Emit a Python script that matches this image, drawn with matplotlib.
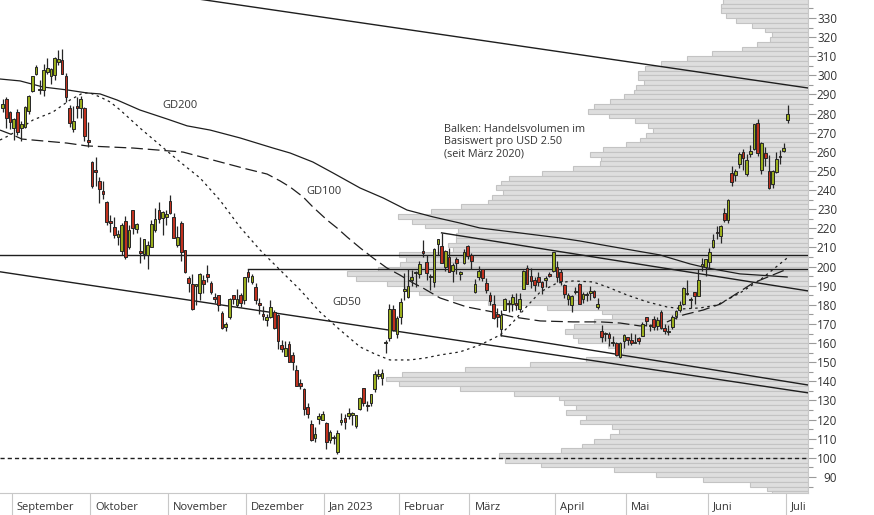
import matplotlib
matplotlib.use("Agg")
import matplotlib.pyplot as plt
import numpy as np
from matplotlib.transforms import blended_transform_factory

plt.rcParams['font.family'] = ['Open Sans', 'DejaVu Sans']
plt.rcParams['lines.scale_dashes'] = False

# ---------------- data ----------------
dates = ["2022-08-29","2022-08-30","2022-08-31","2022-09-01","2022-09-02","2022-09-06","2022-09-07","2022-09-08","2022-09-09",
"2022-09-12","2022-09-13","2022-09-14","2022-09-15","2022-09-16","2022-09-19","2022-09-20","2022-09-21","2022-09-22","2022-09-23",
"2022-09-26","2022-09-27","2022-09-28","2022-09-29","2022-09-30","2022-10-03","2022-10-04","2022-10-05","2022-10-06","2022-10-07",
"2022-10-10","2022-10-11","2022-10-12","2022-10-13","2022-10-14","2022-10-17","2022-10-18","2022-10-19","2022-10-20","2022-10-21",
"2022-10-24","2022-10-25","2022-10-26","2022-10-27","2022-10-28","2022-10-31","2022-11-01","2022-11-02","2022-11-03","2022-11-04",
"2022-11-07","2022-11-08","2022-11-09","2022-11-10","2022-11-11","2022-11-14","2022-11-15","2022-11-16","2022-11-17","2022-11-18",
"2022-11-21","2022-11-22","2022-11-23","2022-11-25","2022-11-28","2022-11-29","2022-11-30","2022-12-01","2022-12-02","2022-12-05",
"2022-12-06","2022-12-07","2022-12-08","2022-12-09","2022-12-12","2022-12-13","2022-12-14","2022-12-15","2022-12-16","2022-12-19",
"2022-12-20","2022-12-21","2022-12-22","2022-12-23","2022-12-27","2022-12-28","2022-12-29","2022-12-30","2023-01-03","2023-01-04",
"2023-01-05","2023-01-06","2023-01-09","2023-01-10","2023-01-11","2023-01-12","2023-01-13","2023-01-17","2023-01-18","2023-01-19",
"2023-01-20","2023-01-23","2023-01-24","2023-01-25","2023-01-26","2023-01-27","2023-01-30","2023-01-31","2023-02-01","2023-02-02",
"2023-02-03","2023-02-06","2023-02-07","2023-02-08","2023-02-09","2023-02-10","2023-02-13","2023-02-14","2023-02-15","2023-02-16",
"2023-02-17","2023-02-21","2023-02-22","2023-02-23","2023-02-24","2023-02-27","2023-02-28","2023-03-01","2023-03-02","2023-03-03",
"2023-03-06","2023-03-07","2023-03-08","2023-03-09","2023-03-10","2023-03-13","2023-03-14","2023-03-15","2023-03-16","2023-03-17",
"2023-03-20","2023-03-21","2023-03-22","2023-03-23","2023-03-24","2023-03-27","2023-03-28","2023-03-29","2023-03-30","2023-03-31",
"2023-04-03","2023-04-04","2023-04-05","2023-04-06","2023-04-10","2023-04-11","2023-04-12","2023-04-13","2023-04-14","2023-04-17",
"2023-04-18","2023-04-19","2023-04-20","2023-04-21","2023-04-24","2023-04-25","2023-04-26","2023-04-27","2023-04-28","2023-05-01",
"2023-05-02","2023-05-03","2023-05-04","2023-05-05","2023-05-08","2023-05-09","2023-05-10","2023-05-11","2023-05-12","2023-05-15",
"2023-05-16","2023-05-17","2023-05-18","2023-05-19","2023-05-22","2023-05-23","2023-05-24","2023-05-25","2023-05-26","2023-05-30",
"2023-05-31","2023-06-01","2023-06-02","2023-06-05","2023-06-06","2023-06-07","2023-06-08","2023-06-09","2023-06-12","2023-06-13",
"2023-06-14","2023-06-15","2023-06-16","2023-06-20","2023-06-21","2023-06-22","2023-06-23","2023-06-26","2023-06-27","2023-06-28",
"2023-06-29","2023-06-30","2023-07-03"]

opens = [282.83,287.87,280.62,272.58,281.07,272.68,273.10,281.30,291.67,
300.72,292.90,292.24,301.83,299.61,300.09,306.91,308.29,299.86,283.09,
271.83,283.84,283.08,282.76,266.15,254.50,250.52,245.01,239.44,233.94,
223.93,220.95,215.33,208.30,224.01,210.04,229.50,219.80,208.28,206.42,
205.82,210.10,219.40,229.77,225.40,226.19,234.05,226.04,211.36,222.60,
208.65,194.02,190.78,189.90,186.00,192.77,195.88,191.51,183.96,185.05,
175.85,168.63,173.57,185.06,179.96,184.99,182.43,197.08,191.78,189.44,
181.22,175.03,172.20,173.84,176.10,174.87,159.25,153.44,159.64,154.00,
146.05,139.34,136.00,126.37,117.50,110.35,120.39,119.95,118.47,109.11,
110.51,103.00,118.96,121.07,122.09,122.56,116.55,125.70,136.56,127.26,
128.68,135.87,143.00,141.91,159.97,162.43,178.05,164.57,173.89,187.33,
183.95,193.01,196.43,196.10,207.78,202.23,194.42,191.94,211.76,210.78,
199.99,204.99,197.93,203.91,196.33,202.03,210.59,206.21,186.74,194.80,
198.54,191.38,185.04,180.25,175.13,167.46,177.31,180.80,180.37,180.30,
178.08,188.28,199.30,195.26,193.00,194.42,192.00,193.13,195.58,197.53,
199.91,197.32,190.52,183.08,179.94,186.69,190.74,182.96,185.36,186.32,
187.15,179.10,166.17,164.80,164.65,159.82,160.29,152.64,160.90,163.17,
161.88,160.01,162.71,163.97,173.72,168.95,172.55,168.70,176.07,167.66,
165.65,168.41,174.22,177.17,180.70,186.20,182.56,186.54,184.62,200.10,
199.78,202.59,210.15,217.80,216.14,228.00,224.22,249.07,247.94,253.51,
260.17,248.40,258.92,261.50,275.13,250.77,259.29,250.07,243.24,249.70,
258.03,260.60,276.49]

highs = [287.74,288.48,281.25,277.58,282.35,275.99,283.84,289.50,299.85,
305.49,297.40,306.00,309.12,303.71,309.84,313.33,313.80,301.29,284.50,
284.09,288.67,289.00,283.65,275.57,255.16,257.50,246.67,244.58,234.57,
226.99,225.75,219.30,222.99,226.26,221.86,229.82,222.93,215.55,214.66,
213.50,224.35,230.60,233.81,228.86,229.85,237.40,227.87,221.20,223.80,
208.90,195.20,195.89,191.00,196.52,195.73,200.82,192.57,186.16,185.19,
176.77,170.92,183.62,185.20,188.50,186.38,194.76,198.92,196.25,191.27,
183.65,179.38,175.20,182.50,177.37,175.05,161.62,160.93,160.99,155.25,
148.47,141.26,136.63,128.62,119.67,116.27,123.57,124.48,118.80,114.59,
111.75,114.39,123.52,122.76,125.95,124.13,122.63,131.70,136.68,129.99,
133.51,145.38,146.50,146.41,161.42,180.68,179.77,174.30,183.81,196.75,
199.00,198.17,197.50,203.00,214.00,206.20,196.30,209.82,214.66,217.65,
208.44,209.71,201.99,205.14,197.67,209.42,211.23,207.20,193.75,200.48,
198.60,194.20,186.50,185.18,178.29,177.35,183.80,182.34,185.81,186.22,
186.44,198.00,200.66,199.31,194.50,197.39,192.35,195.29,197.33,207.79,
202.69,198.74,190.68,186.39,185.10,189.19,191.58,186.50,186.57,189.69,
187.69,183.50,169.70,166.00,165.65,163.47,160.67,160.48,165.00,163.28,
165.49,165.00,162.95,170.79,173.80,169.82,174.43,173.57,177.38,169.76,
169.52,174.50,177.06,181.95,189.32,192.96,184.22,186.78,198.60,204.48,
203.95,209.80,217.25,221.29,221.91,230.83,235.23,252.42,250.97,259.68,
261.57,258.95,263.60,274.75,276.99,265.00,262.45,258.37,250.39,259.88,
260.74,264.45,284.25]

lows = [280.70,272.65,271.81,266.15,269.08,265.74,272.27,279.76,291.25,
300.40,290.40,289.30,300.72,295.60,297.80,305.58,300.63,285.82,272.82,
270.31,277.51,277.57,265.78,262.47,241.01,242.01,233.27,235.35,222.02,
218.00,215.00,211.51,206.22,204.16,209.45,217.25,217.78,202.00,203.80,
198.59,210.00,218.20,222.85,216.35,221.94,227.28,214.82,210.14,203.08,
196.66,186.75,177.12,180.03,182.59,186.34,192.06,185.66,180.90,176.55,
167.54,166.19,172.50,180.63,179.00,178.75,180.63,191.80,191.11,180.55,
175.33,172.22,169.06,173.36,167.52,156.91,155.31,153.28,150.04,145.82,
137.66,135.89,122.26,121.02,108.76,108.24,117.50,119.75,104.64,107.52,
107.16,101.81,117.11,114.92,120.51,117.00,115.60,125.02,127.01,124.31,
127.35,134.27,141.10,138.07,154.76,161.17,166.50,162.78,169.93,182.61,
183.69,189.92,189.55,194.31,204.77,192.89,187.61,189.44,206.11,201.84,
197.50,197.22,191.78,196.33,192.80,201.26,203.75,198.52,186.01,192.88,
192.30,186.10,180.00,172.51,168.44,163.91,177.14,176.03,176.69,177.33,
176.35,188.04,190.95,188.65,187.20,189.94,185.43,189.44,194.42,197.20,
192.20,190.32,183.76,179.74,176.11,185.65,180.31,180.94,182.01,182.69,
183.58,177.65,160.56,161.32,158.61,158.75,153.14,152.37,157.32,158.83,
158.93,159.91,159.65,163.51,169.19,166.56,166.68,166.79,167.23,164.55,
164.35,167.19,172.45,176.31,180.11,185.26,178.22,180.58,184.53,197.53,
195.12,199.37,209.75,214.52,212.53,223.20,223.01,242.02,244.59,251.34,
250.50,247.29,257.21,261.07,257.78,248.25,252.80,240.70,240.85,248.89,
253.61,259.89,275.11]

closes = [284.82,277.70,275.61,277.16,270.21,274.42,283.70,289.26,299.68,
304.42,292.13,302.61,303.75,303.35,309.07,308.73,300.80,288.59,275.33,
276.01,282.94,287.81,268.21,265.25,242.40,249.44,240.81,238.13,223.07,
222.96,216.50,217.24,221.72,204.99,219.35,220.19,222.04,207.28,214.44,
211.25,222.42,224.64,225.09,228.52,227.54,227.82,214.98,215.31,207.47,
197.08,191.30,177.59,190.72,195.97,190.95,194.42,186.92,183.17,180.19,
167.87,169.91,183.20,182.86,182.92,180.83,194.70,194.70,194.86,182.45,
179.82,174.04,173.44,179.05,167.82,160.95,156.80,157.67,150.23,149.87,
137.80,137.57,125.35,123.15,109.10,112.71,121.82,123.18,108.10,113.64,
110.34,113.06,119.77,118.85,123.22,123.56,122.40,131.49,128.78,127.17,
133.42,143.75,143.89,144.43,160.27,177.90,166.66,173.22,181.41,188.27,
189.98,194.76,196.81,201.29,207.32,196.89,194.64,209.25,214.24,202.04,
208.31,197.37,200.86,202.07,196.88,207.63,205.71,202.77,190.90,197.79,
193.81,187.71,182.00,172.92,173.44,174.48,183.26,180.45,184.13,180.13,
183.25,197.58,191.15,192.22,190.41,191.81,189.19,193.88,195.28,207.46,
194.77,192.58,185.52,185.06,184.51,186.79,180.54,185.90,185.00,187.04,
184.31,180.59,162.99,165.08,162.55,160.67,153.75,160.19,164.31,161.83,
160.31,160.61,161.20,170.06,171.79,169.15,168.54,172.08,167.98,166.35,
166.52,173.86,176.89,180.14,188.87,185.77,182.90,184.47,193.17,201.16,
203.93,207.52,213.97,217.61,221.31,224.57,234.86,244.40,249.83,258.71,
256.79,255.90,260.54,274.45,259.46,264.61,256.60,241.05,250.21,256.24,
257.50,261.77,279.82]

# moving averages (trading-day index, price)
gd200_idx = [-0.7,4.7,10.9,17.3,22.7,26.2,30.8,36.9,44.2,49.6,55.8,63.8,72.7,77.3,83.4,88.8,96.1,102.3,108.7,115.7,122.9,
             128.3,139.1,149.8,155.2,166.0,176.7,184.8,189.4,198.2,210.9]
gd200_val = [298.1,297.1,293.9,292.4,290.8,290.3,287.1,281.9,277.2,273.6,271.4,267.3,262.0,259.4,254.7,249.0,241.1,235.9,229.6,226.0,222.8,
             220.2,217.6,215.0,213.4,209.7,206.1,201.4,199.3,196.2,194.6]

gd100_idx = [-0.7,2.8,5.2,17.3,22.7,35.1,48.5,56.6,65.7,71.1,74.6,77.3,80.8,83.4,87.2,89.9,92.6,96.1,99.6,103.3,106.8,110.3,113.0,
             117.6,124.8,131.8,137.2,144.5,153.3,160.6,166.0,171.3,176.7,182.9,188.3,192.9,201.7,210.9]
gd100_val = [271.4,268.8,266.7,264.6,263.1,262.0,259.9,255.7,251.0,248.4,244.8,241.6,236.4,231.2,224.4,220.2,215.5,209.8,204.5,199.3,195.6,191.5,188.8,
             183.6,178.9,176.3,173.7,171.6,171.1,171.1,170.5,169.0,169.5,174.7,177.3,180.4,191.4,198.7]

gd50_idx = [-0.7,2.0,8.2,13.5,18.1,21.6,23.5,26.2,28.9,31.6,36.9,42.3,47.7,53.1,58.4,63.8,69.2,74.6,80.0,85.3,90.7,96.1,100.1,104.1,
            109.5,113.5,117.6,122.9,128.3,133.7,137.2,141.0,144.5,149.0,153.3,158.7,162.5,167.8,173.2,178.6,182.9,187.5,192.0,198.2,203.6,210.9]
gd50_val = [266.2,268.8,276.7,280.8,287.1,290.8,290.8,288.7,286.1,281.9,272.5,263.6,254.7,246.3,234.8,220.7,208.7,198.2,187.8,176.3,166.9,158.0,154.3,151.2,
            151.2,152.2,153.8,155.4,159.0,164.2,171.0,179.4,186.7,191.4,192.5,192.0,189.4,185.2,181.6,178.9,177.9,178.4,179.9,186.2,193.0,204.5]

# drawn trend lines / levels (index, price)
resist_line = [(40.0, 343.5), (216.5, 293.4)]
channel_low = [(-0.7, 197.3), (216.5, 134.0)]
march_line = [(134.0, 163.9), (216.5, 138.1)]
feb_line = [(118.0, 217.65), (216.5, 187.3)]
level_206 = [(-0.7, 206.1), (216.5, 206.1)]
level_199 = [(66.0, 198.9), (216.5, 198.9)]
level_100 = [(-0.7, 100.0), (216.5, 100.0)]

# volume profile: buckets of USD 2.50 from 337.5 downwards, relative volume (bar length)
vol_top_bucket = 337.5
vol_lengths = [85,87,87,82,72,56,43,36,38,51,66,96,121,147,163,170,170,164,172,174,184,198,214,220,199,173,160,155,162,168,
               182,205,218,207,208,235,266,299,307,312,305,316,320,347,377,410,396,383,350,352,352,360,355,409,402,408,430,461,452,421,
               403,389,355,320,261,206,196,214,234,243,235,230,200,185,191,222,278,343,406,422,409,348,294,249,244,232,242,222,228,196,
               189,198,214,226,247,309,303,267,194,152,105,58,41,36]

months = ["September", "Oktober", "November", "Dezember", "Jan 2023", "Februar", "März", "April", "Mai", "Juni", "Juli"]
month_first_idx = [3, 24, 45, 66, 87, 107, 126, 149, 168, 190, 211]

yticks_major = list(range(90, 331, 10))

# ---------------- figure ----------------
W, H = 874, 515
fig = plt.figure(figsize=(W/100, H/100), dpi=100)
pos = [0, 22/H, 808/W, 493/H]
ymin, ymax = 81.63, 339.41
xmin, xmax = -0.7, 216.5

ax_vol = fig.add_axes(pos)
ax_vol.set_ylim(ymin, ymax)
ax_vol.set_xlim(808, 0)
vol_bottoms = [vol_top_bucket - 2.5*k for k in range(len(vol_lengths))]
ax_vol.barh(vol_bottoms, vol_lengths, height=2.5, align='edge', left=0,
            color='#dedede', edgecolor='#c3c3c3', linewidth=0.8)
ax_vol.axis('off')

ax = fig.add_axes(pos)
ax.patch.set_alpha(0)
ax.set_xlim(xmin, xmax)
ax.set_ylim(ymin, ymax)

line_col = '#1e1e1e'
# levels and trend lines
for seg, st in [(resist_line, '-'), (channel_low, '-'), (march_line, '-'), (feb_line, '-'),
                (level_206, '-'), (level_199, '-')]:
    xs, ys = zip(*seg)
    ax.plot(xs, ys, color=line_col, lw=1.0, zorder=3)
xs, ys = zip(*level_100)
ax.plot(xs, ys, color=line_col, lw=1.0, dashes=(3, 2.2), zorder=3)

# moving averages
ax.plot(gd200_idx, gd200_val, color=line_col, lw=0.9, zorder=3)
ax.plot(gd100_idx, gd100_val, color=line_col, lw=0.9, dashes=(8.5, 3.5), zorder=3)
ax.plot(gd50_idx, gd50_val, color=line_col, lw=0.9, dashes=(1.8, 2.6), zorder=3)

# candles
x = np.arange(len(closes))
o = np.array(opens); c = np.array(closes); h = np.array(highs); l = np.array(lows)
up = c >= o
body_low = np.minimum(o, c)
body_h = np.maximum(np.abs(c - o), 0.6)
colors = np.where(up, '#9aae1c', '#c0311f')
ax.vlines(x, l, h, color='#262626', lw=0.9, zorder=4)
ax.bar(x, body_h, bottom=body_low, width=0.72, color=colors, edgecolor='#262626', linewidth=0.7, zorder=5)

# labels
txt_col = '#353535'
ax.text(47.7, 284.5, "GD200", fontsize=8, color=txt_col, ha='center', va='center', zorder=6)
ax.text(86.4, 239.5, "GD100", fontsize=8, color=txt_col, ha='center', va='center', zorder=6)
ax.text(92.6, 181.5, "GD50", fontsize=8, color=txt_col, ha='center', va='center', zorder=6)
ax.text(118.7, 274.6, "Balken: Handelsvolumen im\nBasiswert pro USD 2.50\n(seit März 2020)",
        fontsize=7.8, color=txt_col, ha='left', va='top', linespacing=1.18, zorder=6)

# axes styling
for s in ['top', 'left']:
    ax.spines[s].set_visible(False)
ax.spines['right'].set_color('#c8c8c8')
ax.spines['bottom'].set_color('#c8c8c8')

ax.yaxis.tick_right()
ax.set_yticks(yticks_major)
ax.set_yticks([v + 5 for v in yticks_major] + [85], minor=True)
ax.tick_params(axis='y', which='major', length=5.5, width=0.8, color='#9a9a9a',
               pad=15.5, labelsize=8.5, labelcolor='#333333')
ax.tick_params(axis='y', which='minor', length=3.6, width=0.8, color='#9a9a9a')
for lab in ax.get_yticklabels():
    lab.set_horizontalalignment('right')

seps = [i - 0.5 for i in month_first_idx]
ax.set_xticks(seps)
ax.tick_params(axis='x', which='major', length=16, width=0.8, color='#c8c8c8', labelbottom=False)
trans = blended_transform_factory(ax.transData, ax.transAxes)
for s, name in zip(seps, months):
    ax.text(s + 1.35, -0.0284, name, transform=trans, fontsize=8, color='#333333',
            ha='left', va='center')

fig.savefig("out.png", dpi=100)
